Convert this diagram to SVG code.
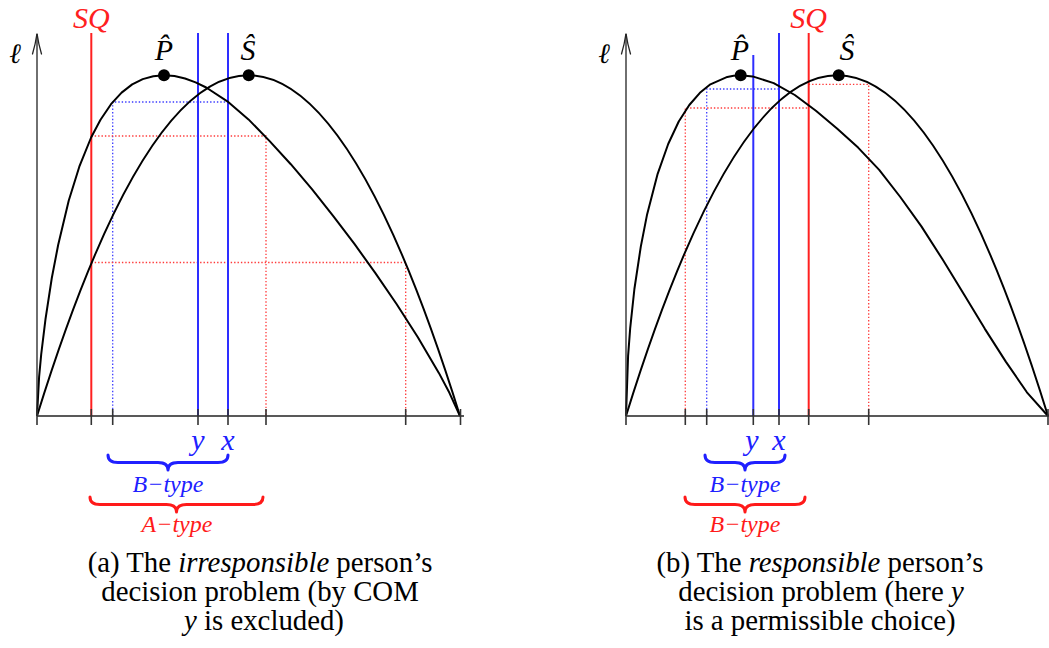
<svg xmlns="http://www.w3.org/2000/svg" width="1049" height="648" viewBox="0 0 1049 648">
<style>
.axis{stroke:#222;stroke-width:1.3;fill:none}
.arr{stroke:#222;stroke-width:1.3;fill:none;stroke-linecap:round}
.tick{stroke:#333;stroke-width:1.6}
.curve{stroke:#000;stroke-width:2;fill:none;stroke-linejoin:round}
.redl{stroke:#ff2020;stroke-width:2}
.bluel{stroke:#2e2eff;stroke-width:2}
.redd{stroke:#ff3a3a;stroke-width:1.3;stroke-dasharray:1.4 2;fill:none}
.blued{stroke:#3a3aff;stroke-width:1.3;stroke-dasharray:1.4 2;fill:none}
.dot{fill:#000}
.braceB{stroke:#2020ff;stroke-width:3;fill:none;stroke-linecap:round;stroke-linejoin:round}
.braceR{stroke:#ff1a1a;stroke-width:3;fill:none;stroke-linecap:round;stroke-linejoin:round}
</style>

<!-- ===== Panel (a) ===== -->
<g id="panel-a">
  <g id="a-guides">
    <path class="blued" d="M112.7,416 V102 H228"/>
    <path class="redd" d="M91.3,136 H266 V416"/>
    <path class="redd" d="M91.3,262.5 H405.7 V416"/>
  </g>
  <g id="a-vlines">
    <line class="redl" x1="91.3" y1="33" x2="91.3" y2="416"/>
    <line class="bluel" x1="198" y1="33" x2="198" y2="416"/>
    <line class="bluel" x1="228" y1="33" x2="228" y2="416"/>
  </g>
  <g id="a-curves">
    <path id="a-curve-P" class="curve" d="M37,416 L39.1,377 41.2,354.4 45.5,319.1 51.8,278 58.2,244.8 68.7,200.7 79.3,166.7 91.1,137.5 100.5,119.8 111,104.2 121.6,92.6 132.2,84.4 142.75,79.1 153.3,76.2 163.9,75.3 174.5,76.1 185.05,78.5 195.6,82.4 206.2,87.5 227.35,101.3 248.5,119.4 269.65,141.1 290.8,164.2 311.95,189.2 333.1,215.8 354.25,243.7 375.4,273.1 396.55,304 417.7,337 438.85,372.9 449.4,392.8 460,416"/>
    <path id="a-curve-S" class="curve" d="M37,416 Q248.5,-265.4 460,416"/>
  </g>
  <g id="a-axes">
    <line class="axis" x1="37" y1="416" x2="37" y2="34"/>
    <path class="arr" d="M32.5,54 Q35.5,44 37,33.5 Q38.5,44 41.5,54"/>
    <line class="axis" x1="37" y1="416" x2="464" y2="416"/>
    <g class="tick">
      <line x1="37" y1="409" x2="37" y2="425"/>
      <line x1="91.3" y1="409" x2="91.3" y2="425"/>
      <line x1="112.7" y1="409" x2="112.7" y2="425"/>
      <line x1="198" y1="409" x2="198" y2="425"/>
      <line x1="228" y1="409" x2="228" y2="425"/>
      <line x1="266" y1="409" x2="266" y2="425"/>
      <line x1="405.7" y1="409" x2="405.7" y2="425"/>
      <line x1="460.5" y1="409" x2="460.5" y2="425"/>
    </g>
  </g>
  <g id="a-P-hat">
    <circle class="dot" cx="164" cy="75.3" r="6"/>
    <text x="164" y="60" font-family="'Liberation Serif', 'DejaVu Serif', serif" font-style="italic" font-size="30" text-anchor="middle">P̂</text>
  </g>
  <g id="a-S-hat">
    <circle class="dot" cx="248.7" cy="75.3" r="6"/>
    <text x="248" y="60" font-family="'Liberation Serif', 'DejaVu Serif', serif" font-style="italic" font-size="30" text-anchor="middle">Ŝ</text>
  </g>
  <text x="15" y="63" font-family="'Liberation Serif', 'DejaVu Serif', serif" font-style="italic" font-size="28" text-anchor="middle">ℓ</text>
  <text x="91.3" y="28" font-family="'Liberation Serif', 'DejaVu Serif', serif" font-style="italic" font-size="30" text-anchor="middle" fill="#ff2020">SQ</text>
  <text x="198" y="450" font-family="'Liberation Serif', 'DejaVu Serif', serif" font-style="italic" font-size="30" text-anchor="middle" fill="#2020ff">y</text>
  <text x="228" y="450" font-family="'Liberation Serif', 'DejaVu Serif', serif" font-style="italic" font-size="30" text-anchor="middle" fill="#2020ff">x</text>
  <g id="a-brace-B">
    <path class="braceB" d="M108,455 Q108,462.5 118,462.5 L158,462.5 Q168,462.5 168,470 Q168,462.5 178,462.5 L218,462.5 Q228,462.5 228,455"/>
    <text x="168" y="492" font-family="'Liberation Serif', 'DejaVu Serif', serif" font-style="italic" font-size="24" text-anchor="middle" fill="#2020ff">B−type</text>
  </g>
  <g id="a-brace-A">
    <path class="braceR" d="M90,497 Q90,504.5 100,504.5 L166.5,504.5 Q176.5,504.5 176.5,512 Q176.5,504.5 186.5,504.5 L253,504.5 Q263,504.5 263,497"/>
    <text x="177" y="532" font-family="'Liberation Serif', 'DejaVu Serif', serif" font-style="italic" font-size="24" text-anchor="middle" fill="#ff1a1a">A−type</text>
  </g>
  <g id="a-caption" font-family="'Liberation Serif', 'DejaVu Serif', serif" font-size="28.8" text-anchor="middle" fill="#000">
    <text x="260" y="572">(a) The <tspan font-style="italic">irresponsible</tspan> person’s</text>
    <text x="260" y="601">decision problem (by COM</text>
    <text x="264" y="630"><tspan font-style="italic">y</tspan> is excluded)</text>
  </g>
</g>

<!-- ===== Panel (b) ===== -->
<g id="panel-b">
  <g id="b-guides">
    <path class="blued" d="M706.7,416 V89 H779"/>
    <path class="redd" d="M685.3,416 V108 H808.7"/>
    <path class="redd" d="M808.7,84.3 H868.7 V416"/>
  </g>
  <g id="b-vlines">
    <line class="bluel" x1="753.3" y1="55" x2="753.3" y2="416"/>
    <line class="bluel" x1="779" y1="33" x2="779" y2="416"/>
    <line class="redl" x1="808.7" y1="33" x2="808.7" y2="416"/>
  </g>
  <g id="b-curves">
    <path id="b-curve-P" class="curve" d="M626,416 L628.1,355.8 630.2,328.2 634.4,289 640.8,246.6 647.1,214.4 657.65,173.8 668.2,144 678.75,121.5 689.3,105 699.9,92.8 710.4,84.3 727.3,76.9 733.6,75.7 740.7,75.3 752.6,76.4 773.7,83.1 794.8,95 815.9,110.7 837,128.4 858.1,147.6 879.2,169.9 900.3,197 921.4,226.4 942.5,259.3 963.6,293.7 984.7,328.6 1005.8,361.6 1026.9,392.3 1048,416"/>
    <path id="b-curve-S" class="curve" d="M626,416 Q837.5,-265.4 1048,416"/>
  </g>
  <g id="b-axes">
    <line class="axis" x1="626" y1="416" x2="626" y2="34"/>
    <path class="arr" d="M621.5,54 Q624.5,44 626,33.5 Q627.5,44 630.5,54"/>
    <line class="axis" x1="626" y1="416" x2="1049" y2="416"/>
    <g class="tick">
      <line x1="626" y1="409" x2="626" y2="425"/>
      <line x1="685.3" y1="409" x2="685.3" y2="425"/>
      <line x1="706.7" y1="409" x2="706.7" y2="425"/>
      <line x1="753.3" y1="409" x2="753.3" y2="425"/>
      <line x1="779" y1="409" x2="779" y2="425"/>
      <line x1="808.7" y1="409" x2="808.7" y2="425"/>
      <line x1="868.7" y1="409" x2="868.7" y2="425"/>
      <line x1="1048" y1="409" x2="1048" y2="425"/>
    </g>
  </g>
  <g id="b-P-hat">
    <circle class="dot" cx="740.7" cy="75.3" r="6"/>
    <text x="740" y="60" font-family="'Liberation Serif', 'DejaVu Serif', serif" font-style="italic" font-size="30" text-anchor="middle">P̂</text>
  </g>
  <g id="b-S-hat">
    <circle class="dot" cx="838.7" cy="75.3" r="6"/>
    <text x="847" y="60" font-family="'Liberation Serif', 'DejaVu Serif', serif" font-style="italic" font-size="30" text-anchor="middle">Ŝ</text>
  </g>
  <text x="604" y="63" font-family="'Liberation Serif', 'DejaVu Serif', serif" font-style="italic" font-size="28" text-anchor="middle">ℓ</text>
  <text x="808.7" y="28" font-family="'Liberation Serif', 'DejaVu Serif', serif" font-style="italic" font-size="30" text-anchor="middle" fill="#ff2020">SQ</text>
  <text x="752" y="450" font-family="'Liberation Serif', 'DejaVu Serif', serif" font-style="italic" font-size="30" text-anchor="middle" fill="#2020ff">y</text>
  <text x="779" y="450" font-family="'Liberation Serif', 'DejaVu Serif', serif" font-style="italic" font-size="30" text-anchor="middle" fill="#2020ff">x</text>
  <g id="b-brace-B">
    <path class="braceB" d="M705,455 Q705,462.5 715,462.5 L735,462.5 Q745,462.5 745,470 Q745,462.5 755,462.5 L775,462.5 Q785,462.5 785,455"/>
    <text x="745" y="492" font-family="'Liberation Serif', 'DejaVu Serif', serif" font-style="italic" font-size="24" text-anchor="middle" fill="#2020ff">B−type</text>
  </g>
  <g id="b-brace-B2">
    <path class="braceR" d="M685,497 Q685,504.5 695,504.5 L735,504.5 Q745,504.5 745,512 Q745,504.5 755,504.5 L795,504.5 Q805,504.5 805,497"/>
    <text x="745" y="532" font-family="'Liberation Serif', 'DejaVu Serif', serif" font-style="italic" font-size="24" text-anchor="middle" fill="#ff1a1a">B−type</text>
  </g>
  <g id="b-caption" font-family="'Liberation Serif', 'DejaVu Serif', serif" font-size="28.8" text-anchor="middle" fill="#000">
    <text x="820" y="572">(b) The <tspan font-style="italic">responsible</tspan> person’s</text>
    <text x="821" y="601">decision problem (here <tspan font-style="italic">y</tspan></text>
    <text x="820" y="630">is a permissible choice)</text>
  </g>
</g>
</svg>
